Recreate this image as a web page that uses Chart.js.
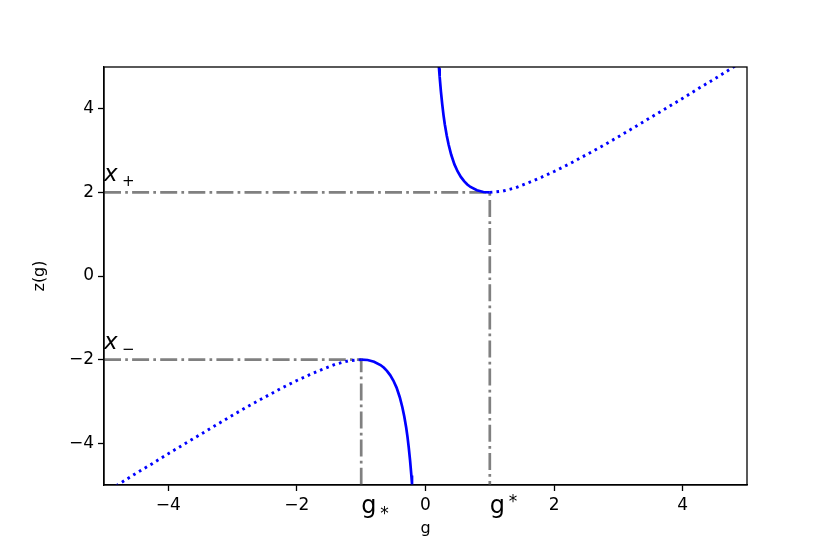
<!DOCTYPE html>
<html>
<head>
<meta charset="utf-8">
<script src="https://cdn.jsdelivr.net/npm/chart.js@4"></script>
<style>
  body { margin: 0; background: #fff; }
  canvas { display: block; }
</style>
</head>
<body>
<canvas id="chart" width="830" height="554"></canvas>
<script>
// z(g) branches
const upperSolidG = [0.2, 0.21, 0.22, 0.24, 0.26, 0.28, 0.3, 0.33, 0.36, 0.4, 0.45, 0.5, 0.55, 0.6, 0.65, 0.7, 0.8, 0.9, 1.0];
const upperSolidZ = [5.2, 4.97, 4.77, 4.41, 4.11, 3.85, 3.63, 3.36, 3.14, 2.9, 2.67, 2.5, 2.37, 2.27, 2.19, 2.13, 2.05, 2.01, 2.0];
const upperDotG = [1.0, 1.2, 1.4, 1.6, 1.8, 2.0, 2.25, 2.5, 2.75, 3.0, 3.25, 3.5, 3.75, 4.0, 4.25, 4.5, 4.75, 5.0];
const upperDotZ = [2.0, 2.03, 2.11, 2.23, 2.36, 2.5, 2.69, 2.9, 3.11, 3.33, 3.56, 3.79, 4.02, 4.25, 4.49, 4.72, 4.96, 5.2];
const lowerSolidG = [-1.0, -0.9, -0.8, -0.7, -0.65, -0.6, -0.55, -0.5, -0.45, -0.4, -0.36, -0.33, -0.3, -0.28, -0.26, -0.24, -0.22, -0.21, -0.2];
const lowerSolidZ = [-2.0, -2.01, -2.05, -2.13, -2.19, -2.27, -2.37, -2.5, -2.67, -2.9, -3.14, -3.36, -3.63, -3.85, -4.11, -4.41, -4.77, -4.97, -5.2];
const lowerDotG = [-1.0, -1.2, -1.4, -1.6, -1.8, -2.0, -2.25, -2.5, -2.75, -3.0, -3.25, -3.5, -3.75, -4.0, -4.25, -4.5, -4.75, -5.0];
const lowerDotZ = [-2.0, -2.03, -2.11, -2.23, -2.36, -2.5, -2.69, -2.9, -3.11, -3.33, -3.56, -3.79, -4.02, -4.25, -4.49, -4.72, -4.96, -5.2];

// reference levels
const gStarUpper = 1;   // g^*
const gStarLower = -1;  // g_*
const xPlus = 2;
const xMinus = -2;

const xTicks = [-4, -2, 0, 2, 4];
const yTicks = [-4, -2, 0, 2, 4];
const axisMin = -5;
const axisMax = 5;

const FONT = "'DejaVu Sans', sans-serif";
const BLUE = "#0000ff";
const GRAY = "#808080";

function pts(xs, ys) {
  return xs.map((x, i) => ({ x: x, y: ys[i] }));
}

function fmt(v) {
  return v < 0 ? "\u2212" + Math.abs(v) : String(v);
}

const solid = { borderColor: BLUE, borderWidth: 2.7, pointRadius: 0, fill: false, tension: 0 };
const dotted = { borderColor: BLUE, borderWidth: 2.9, borderDash: [2.6, 4.1], borderCapStyle: "butt", pointRadius: 0, fill: false, tension: 0 };
const dashDot = { borderColor: GRAY, borderWidth: 2.7, borderDash: [17, 4.2, 2.7, 4.2], pointRadius: 0, fill: false, tension: 0 };

const labelsPlugin = {
  id: "labels",
  afterDatasetsDraw(chart) {
    const { ctx, chartArea, scales } = chart;
    const xs = scales.x, ys = scales.y;
    ctx.save();
    // frame
    ctx.strokeStyle = "#000";
    ctx.lineWidth = 1.3;
    ctx.strokeRect(chartArea.left, chartArea.top, chartArea.right - chartArea.left, chartArea.bottom - chartArea.top);

    ctx.fillStyle = "#000";
    ctx.textBaseline = "alphabetic";

    // x_+ and x_-
    const lx = xs.getPixelForValue(axisMin);
    ctx.textAlign = "left";
    ctx.font = "italic 23px " + FONT;
    ctx.fillText("x", lx, ys.getPixelForValue(xPlus) - 11);
    ctx.fillText("x", lx, ys.getPixelForValue(xMinus) - 11);
    ctx.font = "15px " + FONT;
    ctx.fillText("+", lx + 18, ys.getPixelForValue(xPlus) - 6);
    ctx.fillText("\u2212", lx + 18, ys.getPixelForValue(xMinus) - 6);

    // g_* and g^*
    const by = chartArea.bottom + 28;
    const g1 = xs.getPixelForValue(gStarLower);
    const g2 = xs.getPixelForValue(gStarUpper);
    ctx.font = "24px " + FONT;
    ctx.fillText("g", g1, by);
    ctx.fillText("g", g2, by);
    ctx.font = "17px " + FONT;
    ctx.fillText("*", g1 + 19, by + 6);
    ctx.fillText("*", g2 + 19, by - 6);

    // axis titles
    ctx.font = "16px " + FONT;
    ctx.textAlign = "center";
    ctx.fillText("g", (chartArea.left + chartArea.right) / 2, 533);
    ctx.translate(40, (chartArea.top + chartArea.bottom) / 2);
    ctx.rotate(-Math.PI / 2);
    ctx.textBaseline = "middle";
    ctx.fillText("z(g)", 0, 0);
    ctx.restore();
  }
};

function axis(ticks, fit) {
  return {
    type: "linear",
    min: axisMin,
    max: axisMax,
    afterBuildTicks: (s) => { s.ticks = ticks.map((v) => ({ value: v })); },
    afterFit: fit,
    grid: { display: true, drawOnChartArea: false, drawTicks: true, tickLength: 6, tickColor: "#000", tickWidth: 1.3 },
    border: { display: true, color: "#000", width: 1.3 },
    ticks: { color: "#000", font: { family: FONT, size: 17 }, padding: 4, callback: fmt }
  };
}

new Chart(document.getElementById("chart"), {
  type: "line",
  data: {
    datasets: [
      Object.assign({ data: pts(upperSolidG, upperSolidZ) }, solid),
      Object.assign({ data: pts(upperDotG, upperDotZ) }, dotted),
      Object.assign({ data: pts(lowerSolidG, lowerSolidZ) }, solid),
      Object.assign({ data: pts(lowerDotG, lowerDotZ) }, dotted),
      Object.assign({ data: [{ x: axisMin, y: xPlus }, { x: gStarUpper, y: xPlus }, { x: gStarUpper, y: axisMin }] }, dashDot),
      Object.assign({ data: [{ x: axisMin, y: xMinus }, { x: gStarLower, y: xMinus }, { x: gStarLower, y: axisMin }] }, dashDot)
    ]
  },
  options: {
    responsive: false,
    animation: false,
    devicePixelRatio: 1,
    layout: { padding: { left: 0, top: 67, right: 83, bottom: 0 } },
    plugins: { legend: { display: false }, tooltip: { enabled: false } },
    scales: {
      x: axis(xTicks, (s) => { s.height = 69; }),
      y: axis(yTicks, (s) => { s.width = 104; })
    }
  },
  plugins: [labelsPlugin]
});
</script>
</body>
</html>
